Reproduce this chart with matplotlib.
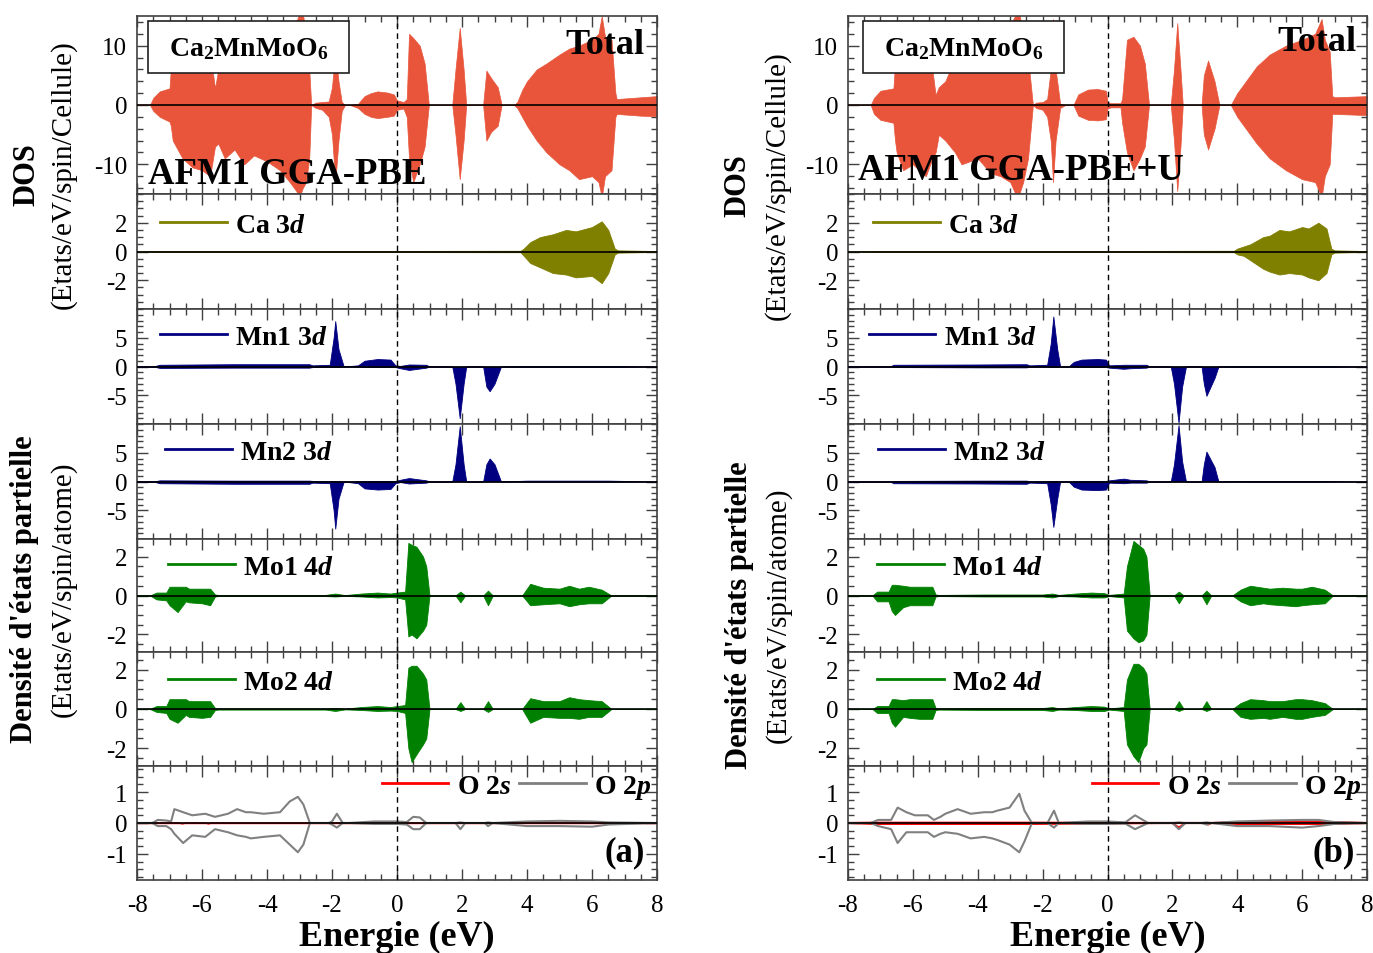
import matplotlib
matplotlib.use("Agg")
import matplotlib.pyplot as plt
from matplotlib.lines import Line2D
from matplotlib.patches import Rectangle
from matplotlib.ticker import MultipleLocator

plt.rcParams['font.family'] = ['Liberation Serif', 'DejaVu Serif']
plt.rcParams['mathtext.fontset'] = 'custom'
plt.rcParams['mathtext.it'] = 'Liberation Serif:bold:italic'
plt.rcParams['mathtext.bf'] = 'Liberation Serif:bold'
plt.rcParams['mathtext.rm'] = 'Liberation Serif:bold'
plt.rcParams['axes.unicode_minus'] = False

# ---------------- DATA ----------------
# Total DOS, (a) GGA-PBE
tot_a_E = [-8, -7.6, -7.5, -7.3, -7.0, -6.96, -6.9, -6.6, -6.3, -6.0, -5.75, -5.6, -5.5, -5.3, -5.0, -4.7, -4.4, -4.0,
           -3.6, -3.3, -3.1, -3.0, -2.9, -2.8, -2.7, -2.64, -2.5, -2.3, -2.1, -2.0, -1.9, -1.8, -1.7, -1.6, -1.45, -1.2,
           -1.0, -0.8, -0.6, -0.3, -0.1, 0.0, 0.2, 0.3, 0.37, 0.5, 0.7, 0.85, 0.98, 1.1, 1.7, 1.8, 1.93, 2.05, 2.13, 2.3,
           2.65, 2.75, 2.9, 3.1, 3.22, 3.6, 3.7, 3.85, 4.0, 4.3, 4.6, 5.0, 5.3, 5.6, 6.0, 6.2, 6.3, 6.4, 6.6, 6.72, 6.76,
           7.0, 7.5, 8.0]
tot_a_up = [0, 0, 1.2, 2.3, 2.8, 6, 10, 11, 12, 11, 9, 2.8, 6, 9, 11, 12, 12, 12,
            13, 13, 14, 15.5, 15.5, 12, 6, 0, 0.4, 0.5, 0.6, 3, 9, 4, 0.5, 0, 0, 0.2,
            1.5, 2, 2.3, 2.1, 1.8, 0.8, 0.5, 1, 12, 11.3, 10, 7, 0, 0, 0, 6, 13, 6, 0, 0,
            0, 5.8, 4.5, 3, 0, 0, 0.5, 2.5, 4, 6, 7, 8.5, 9.5, 10, 11, 12, 15, 11.5, 11, 2, 1,
            1.1, 1.3, 1.5]
tot_a_dn = [0, 0, -1, -2, -2.8, -3.5, -6, -9, -10.5, -11, -12, -7, -6.5, -9, -7.5, -10, -8.5, -9.5,
            -11, -13, -14.5, -15.5, -14, -13, -9, 0, -0.5, -0.8, -2, -5, -13, -6, -1, 0, 0, -0.5,
            -1.5, -2, -2.2, -2, -1.8, -0.8, -0.6, -2, -9, -13, -10, -7, 0, 0, 0, -5, -12.5, -6, 0, 0,
            0, -6, -4.5, -3.5, 0, 0, -0.5, -2, -3.5, -6, -8, -10, -11, -12.5, -12, -13, -15.5, -12, -11, -2, -1.5,
            -1.6, -1.8, -1.9]

# Total DOS, (b) GGA-PBE+U
tot_b_E = [-8, -7.3, -7.2, -7.0, -6.6, -6.55, -6.5, -6.3, -6.0, -5.6, -5.4, -5.3, -5.2, -5.0, -4.7, -4.5, -4.0, -3.6,
           -3.3, -3.0, -2.8, -2.72, -2.6, -2.45, -2.3, -2.2, -2.0, -1.86, -1.75, -1.68, -1.6, -1.46, -1.3, -1.05, -0.9,
           -0.6, -0.3, -0.05, 0.0, 0.1, 0.4, 0.45, 0.6, 0.8, 1.0, 1.15, 1.28, 1.4, 1.95, 2.05, 2.15, 2.25, 2.32, 2.9,
           2.97, 3.1, 3.3, 3.45, 3.8, 3.9, 4.0, 4.2, 4.6, 5.0, 5.5, 6.0, 6.4, 6.6, 6.7, 6.85, 6.93, 7.0, 7.5, 8.0]
tot_b_up = [0, 0, 1.2, 2.4, 2.8, 7, 10, 11, 11.5, 10, 6, 1.7, 3, 4, 8, 10, 12, 12.5,
            13, 13.5, 15.5, 15.5, 12, 8, 0, 0.4, 0.5, 1, 6, 14.5, 6, 0.2, 0, 0, 1.8,
            2.6, 2.7, 2.4, 0.5, 0.3, 0.3, 1, 11, 11.5, 10, 7, 0, 0, 0, 6, 13.8, 6, 0, 0,
            5, 7.5, 4, 0, 0, 1, 2, 3.5, 6.5, 8.5, 10, 11, 12, 14.5, 11, 9, 1.5, 1.3, 1.4, 1.5]
tot_b_dn = [0, 0, -1.5, -2.5, -3, -6, -8, -11, -10, -12, -9, -8, -5, -6, -8, -10, -9, -11.5,
            -12, -13, -15.5, -15, -13, -9, 0, -0.5, -0.8, -2, -6, -13, -6, -0.5, 0, 0, -1.8,
            -2.5, -2.6, -2.4, -0.6, -0.4, -0.4, -3, -8, -11, -9, -7, 0, 0, 0, -6, -14.5, -7, 0, 0,
            -5, -7.5, -4, 0, 0, -1, -2, -3.5, -6.5, -9, -11, -12.5, -13, -15.5, -12, -10, -1.5, -1.5, -1.6, -1.7]

# Ca 3d
ca_a_E = [-8, -7.4, -3, 3.8, 3.9, 4.1, 4.4, 4.8, 5.2, 5.5, 6.0, 6.3, 6.5, 6.7, 6.8, 8]
ca_a_up = [0, 0.03, 0.03, 0.05, 0.2, 0.65, 1.0, 1.2, 1.5, 1.4, 1.7, 2.1, 1.5, 0.2, 0.08, 0.03]
ca_a_dn = [0, -0.03, -0.03, -0.05, -0.3, -0.8, -1.1, -1.5, -1.6, -1.8, -1.7, -2.2, -1.5, -0.2, -0.08, -0.03]
ca_b_E = [-8, -7.2, -2.3, 3.9, 4.0, 4.2, 4.4, 4.8, 5.0, 5.3, 5.6, 6.0, 6.2, 6.5, 6.75, 6.9, 7.0, 8]
ca_b_up = [0, 0.03, 0.03, 0.05, 0.2, 0.35, 0.5, 1.0, 1.1, 1.5, 1.4, 1.7, 1.6, 2.0, 1.6, 0.2, 0.08, 0.03]
ca_b_dn = [0, -0.03, -0.03, -0.05, -0.2, -0.3, -0.6, -1.2, -1.4, -1.6, -1.5, -1.6, -1.8, -2.0, -1.5, -0.2, -0.08, -0.03]

# Mn 3d (a)
mn_a_E = [-8, -7.5, -7.3, -5.0, -2.7, -2.6, -2.07, -1.95, -1.9, -1.8, -1.64, -1.2, -1.0, -0.6, -0.2, -0.05, 0.1,
          0.37, 0.9, 1.0, 1.7, 1.8, 1.93, 2.05, 2.13, 2.65, 2.75, 2.85, 3.0, 3.2, 4.0, 6.5, 8]
mn1_a_up = [0, 0, 0.3, 0.4, 0.4, 0.2, 0.3, 5, 7.9, 3, 0, 0.2, 1.0, 1.3, 1.2, 0.2, 0.1,
            0.35, 0.3, 0, 0, 0, 0, 0, 0, 0, 0, 0, 0, 0, 0.1, 0.1, 0]
mn1_a_dn = [0, 0, -0.25, -0.2, -0.2, -0.1, -0.1, -0.1, -0.1, -0.1, 0, -0.05, -0.1, -0.1, -0.1, -0.1, -0.3,
            -0.6, -0.2, 0, 0, -3, -9, -3, 0, 0, -3.5, -4.3, -3, 0, -0.1, -0.1, 0]
mn2_a_up = [0, 0, 0.2, 0.15, 0.15, 0.1, 0.1, 0.1, 0.1, 0.1, 0, 0.05, 0.1, 0.1, 0.1, 0.1, 0.3,
            0.6, 0.2, 0, 0, 3, 9.6, 3, 0, 0, 3, 4, 3, 0, 0.15, 0.15, 0]
mn2_a_dn = [0, 0, -0.3, -0.4, -0.4, -0.2, -0.3, -5, -8.2, -3, 0, -0.3, -1.2, -1.4, -1.3, -0.3, -0.1,
            -0.35, -0.2, 0, 0, 0, 0, 0, 0, 0, 0, 0, 0, 0, -0.05, -0.05, 0]

# Mn 3d (b)
mn_b_E = [-8, -6.7, -6.6, -4.0, -2.5, -2.4, -1.86, -1.75, -1.67, -1.55, -1.46, -1.2, -1.04, -0.8, -0.3, -0.05, 0.05,
          0.5, 0.7, 1.2, 1.3, 1.95, 2.05, 2.19, 2.3, 2.42, 2.9, 2.97, 3.05, 3.3, 3.42, 4.3, 6.5, 8]
mn1_b_up = [0, 0, 0.3, 0.35, 0.4, 0.2, 0.3, 4, 8.7, 3, 0, 0, 0.8, 1.2, 1.3, 1.2, 0.2,
            0.3, 0.3, 0.3, 0, 0, 0, 0, 0, 0, 0, 0, 0, 0, 0, 0.1, 0.1, 0]
mn1_b_dn = [0, 0, -0.1, -0.15, -0.15, -0.05, -0.05, -0.1, -0.1, -0.1, 0, 0, -0.05, -0.1, -0.1, -0.1, -0.2,
            -0.4, -0.3, -0.2, 0, 0, -3, -9.8, -3.5, 0, 0, -3, -5.1, -2, 0, -0.1, -0.1, 0]
mn2_b_up = [0, 0, 0.1, 0.15, 0.15, 0.05, 0.05, 0.1, 0.1, 0.1, 0, 0, 0.05, 0.1, 0.1, 0.1, 0.2,
            0.5, 0.3, 0.2, 0, 0, 3, 9.8, 3.5, 0, 0, 3, 5.2, 2.5, 0, 0.1, 0.1, 0]
mn2_b_dn = [0, 0, -0.3, -0.35, -0.4, -0.2, -0.3, -4, -7.9, -3, 0, 0, -0.9, -1.4, -1.5, -1.4, -0.2,
            -0.3, -0.2, -0.2, 0, 0, 0, 0, 0, 0, 0, 0, 0, 0, 0, -0.05, -0.05, 0]

# Mo 4d (a)
mo_a_E = [-8, -7.6, -7.4, -7.1, -7.0, -6.75, -6.5, -6.4, -6.0, -5.75, -5.6, -5.5, -2.2, -1.9, -1.6, -1.1, -0.6,
          -0.2, 0.0, 0.25, 0.35, 0.45, 0.6, 0.8, 0.9, 1.0, 1.1, 1.8, 1.95, 2.1, 2.65, 2.8, 2.95, 3.85, 4.1, 4.5,
          5.0, 5.3, 5.6, 5.9, 6.3, 6.6, 8]
mo1_a_up = [0, 0, 0.15, 0.15, 0.45, 0.45, 0.45, 0.35, 0.35, 0.35, 0.05, 0.03, 0.03, 0.1, 0.02, 0.1, 0.15,
            0.1, 0.15, 0.2, 2.7, 2.6, 2.5, 2.0, 1.5, 0, 0, 0, 0.2, 0, 0, 0.25, 0, 0, 0.6, 0.4,
            0.35, 0.5, 0.35, 0.45, 0.3, 0, 0]
mo1_a_dn = [0, 0, -0.2, -0.25, -0.5, -0.85, -0.3, -0.35, -0.4, -0.5, -0.05, -0.03, -0.03, -0.05, -0.02, -0.05, -0.1,
            -0.08, -0.1, -0.2, -2.1, -2.0, -2.2, -1.8, -1.5, 0, 0, 0, -0.35, 0, 0, -0.5, 0, 0, -0.5, -0.45,
            -0.4, -0.55, -0.45, -0.4, -0.4, 0, 0]
mo2_a_up = [0, 0, 0.15, 0.15, 0.5, 0.5, 0.5, 0.4, 0.4, 0.4, 0.05, 0.03, 0.03, 0.05, 0.02, 0.1, 0.15,
            0.1, 0.15, 0.2, 2.1, 2.2, 2.2, 1.8, 1.5, 0, 0, 0, 0.35, 0, 0, 0.4, 0, 0, 0.55, 0.4,
            0.4, 0.6, 0.5, 0.45, 0.4, 0, 0]
mo2_a_dn = [0, 0, -0.15, -0.2, -0.5, -0.7, -0.3, -0.4, -0.45, -0.4, -0.05, -0.03, -0.03, -0.1, -0.02, -0.05, -0.1,
            -0.08, -0.1, -0.2, -2.0, -2.7, -2.3, -1.8, -1.5, 0, 0, 0, -0.1, 0, 0, -0.15, 0, 0, -0.7, -0.4,
            -0.45, -0.45, -0.5, -0.4, -0.4, 0, 0]

# Mo 4d (b)
mo_b_E = [-8, -7.25, -7.1, -6.75, -6.65, -6.55, -6.3, -6.1, -5.8, -5.4, -5.3, -5.2, -3.8, -2.0, -1.7, -1.5, -1.0,
          -0.5, -0.1, 0.05, 0.5, 0.6, 0.8, 0.95, 1.1, 1.2, 1.3, 1.4, 2.05, 2.2, 2.35, 2.9, 3.05, 3.2, 3.85, 4.1,
          4.4, 4.8, 5.0, 5.4, 5.8, 6.0, 6.3, 6.7, 6.95, 8]
mo1_b_up = [0, 0, 0.2, 0.2, 0.55, 0.55, 0.5, 0.45, 0.45, 0.45, 0.05, 0.03, 0.05, 0.05, 0.1, 0.03, 0.1,
            0.15, 0.12, 0.03, 0.1, 1.5, 2.8, 2.6, 2.4, 2.0, 0, 0, 0, 0.2, 0, 0, 0.25, 0, 0, 0.3,
            0.5, 0.4, 0.35, 0.4, 0.35, 0.35, 0.45, 0.3, 0, 0]
mo1_b_dn = [0, 0, -0.3, -0.3, -0.8, -1.0, -0.6, -0.5, -0.5, -0.5, -0.05, -0.03, -0.05, -0.05, -0.1, -0.03, -0.05,
            -0.1, -0.1, -0.03, -0.1, -1.8, -2.2, -2.4, -2.3, -2.0, 0, 0, 0, -0.4, 0, 0, -0.45, 0, 0, -0.3,
            -0.5, -0.4, -0.45, -0.5, -0.55, -0.5, -0.45, -0.4, 0, 0]
mo2_b_up = [0, 0, 0.15, 0.15, 0.5, 0.5, 0.45, 0.5, 0.5, 0.5, 0.05, 0.03, 0.05, 0.05, 0.1, 0.03, 0.1,
            0.15, 0.12, 0.03, 0.1, 1.5, 2.3, 2.3, 2.1, 1.8, 0, 0, 0, 0.4, 0, 0, 0.4, 0, 0, 0.3,
            0.5, 0.45, 0.4, 0.4, 0.5, 0.5, 0.45, 0.3, 0, 0]
mo2_b_dn = [0, 0, -0.2, -0.2, -0.7, -0.9, -0.4, -0.45, -0.5, -0.5, -0.05, -0.03, -0.05, -0.05, -0.1, -0.03, -0.05,
            -0.1, -0.1, -0.03, -0.1, -1.8, -2.4, -2.7, -2.0, -1.8, 0, 0, 0, -0.1, 0, 0, -0.1, 0, 0, -0.4,
            -0.5, -0.45, -0.5, -0.4, -0.5, -0.5, -0.4, -0.3, 0, 0]

# O 2p (a)
o2p_a_E = [-8, -7.53, -7.36, -7.1, -6.95, -6.85, -6.58, -6.3, -5.9, -5.6, -5.2, -4.92, -4.65, -4.5, -4.1, -3.6, -3.3,
           -3.05, -2.88, -2.68, -2.1, -2.0, -1.85, -1.67, -1.5, -0.7, 0.0, 0.3, 0.5, 0.7, 0.9, 1.5, 1.8, 1.95, 2.1,
           2.7, 2.8, 2.95, 4.0, 5.0, 6.0, 6.5, 8]
o2p_a_up = [0, 0, 0.1, 0.08, 0.05, 0.45, 0.35, 0.25, 0.3, 0.2, 0.3, 0.45, 0.35, 0.35, 0.3, 0.35, 0.7,
            0.85, 0.6, 0, 0, 0.05, 0.3, 0, 0, 0.05, 0.05, 0.03, 0.2, 0.18, 0, 0, 0, 0.02, 0,
            0, 0.02, 0, 0.05, 0.07, 0.05, 0.02, 0]
o2p_a_dn = [0, 0, -0.1, -0.1, -0.2, -0.35, -0.65, -0.4, -0.45, -0.2, -0.3, -0.4, -0.45, -0.5, -0.45, -0.4, -0.7,
            -0.95, -0.7, 0, 0, -0.05, -0.15, 0, 0, -0.03, -0.03, -0.05, -0.2, -0.2, 0, 0, 0, -0.2, 0,
            0, -0.1, 0, -0.1, -0.1, -0.12, -0.05, 0]
# O 2s (a)
o2s_a_E = [-8, -7.5, -6.7, -6.6, -6.5, -5.9, -5.8, -5.7, -2.7, 8]
o2s_a_up = [0, 0, 0, 0, 0, 0, 0, 0, 0, 0]
o2s_a_dn = [0, 0, 0, -0.03, 0, 0, -0.03, 0, 0, 0]

# O 2p (b)
o2p_b_E = [-8, -7.3, -7.07, -6.67, -6.47, -6.2, -5.94, -5.54, -5.35, -5.15, -5.0, -4.62, -4.22, -3.8, -3.55, -3.4,
           -3.02, -2.72, -2.56, -2.33, -1.85, -1.65, -1.5, -0.6, 0.0, 0.55, 0.85, 1.25, 2.0, 2.2, 2.4, 2.9, 3.05, 3.2,
           4.0, 5.0, 6.0, 6.5, 7.0, 8]
o2p_b_up = [0, 0, 0.1, 0.1, 0.5, 0.35, 0.25, 0.25, 0.1, 0.2, 0.3, 0.45, 0.3, 0.35, 0.35, 0.4,
            0.5, 0.95, 0.4, 0, 0, 0.4, 0, 0.05, 0.05, 0.02, 0.25, 0, 0, 0.02, 0, 0, 0.02, 0,
            0.05, 0.08, 0.1, 0.1, 0.03, 0]
o2p_b_dn = [0, 0, -0.1, -0.2, -0.65, -0.3, -0.3, -0.3, -0.45, -0.35, -0.3, -0.35, -0.5, -0.45, -0.5, -0.55,
            -0.7, -0.95, -0.6, 0, 0, -0.15, 0, -0.03, -0.03, -0.02, -0.2, 0, 0, -0.2, 0, 0, -0.05, 0,
            -0.1, -0.1, -0.15, -0.1, -0.03, 0]
# O 2s (b)
o2s_b_E = [-8, -7.2, -2.3, 2.0, 2.2, 2.4, 3.0, 3.1, 3.2, 4.0, 7.0, 8]
o2s_b_up = [0, 0.01, 0.01, 0, 0, 0, 0, 0, 0, 0.03, 0.03, 0]
o2s_b_dn = [0, -0.03, -0.03, 0, -0.15, 0, 0, -0.05, 0, -0.03, -0.03, 0]

x_ticks = [-8, -6, -4, -2, 0, 2, 4, 6, 8]
ylims = [15, 4, 10, 10, 2.9, 2.9, 1.85]
yticks = [[-10, 0, 10], [-2, 0, 2], [-5, 0, 5], [-5, 0, 5], [-2, 0, 2], [-2, 0, 2], [-1, 0, 1]]
yminor = [2, 0.5, 1, 1, 0.5, 0.5, 0.25]
pdos_labels = ['Ca 3$d$', 'Mn1 3$d$', 'Mn2 3$d$', 'Mo1 4$d$', 'Mo2 4$d$']

C_TOT = '#E8553B'
C_CA = '#7F7F00'
C_MN = '#000080'
C_MO = '#008000'
C_O2P = '#808080'
C_O2S = '#FF0000'
SPINE = '#404040'

# ---------------- FIGURE ----------------
W, H = 1373, 954
fig = plt.figure(figsize=(W / 100, H / 100), dpi=100)

hr = [178, 115, 115, 115, 113, 114, 114]

cols = [
    dict(left=137, right=657, tag='(a)', method='AFM1 GGA-PBE', box_x=0.021, o2s_lw=1.0,
         tot=(tot_a_E, tot_a_up, tot_a_dn),
         pd=[(ca_a_E, ca_a_up, ca_a_dn, C_CA), (mn_a_E, mn1_a_up, mn1_a_dn, C_MN), (mn_a_E, mn2_a_up, mn2_a_dn, C_MN),
             (mo_a_E, mo1_a_up, mo1_a_dn, C_MO), (mo_a_E, mo2_a_up, mo2_a_dn, C_MO)],
         o2p=(o2p_a_E, o2p_a_up, o2p_a_dn), o2s=(o2s_a_E, o2s_a_up, o2s_a_dn),
         leg_y=[0.73, 0.757, 0.757, 0.75, 0.737], leg_x=[0.044, 0.044, 0.054, 0.06, 0.06],
         tot_txt=(0.975, 0.84), meth_txt=(0.022, 0.115),
         lab1=(27, 175, 63, 175), lab2=(25, 589, 63, 589)),
    dict(left=848, right=1367, tag='(b)', method='AFM1 GGA-PBE+U', box_x=0.029, o2s_lw=1.5,
         tot=(tot_b_E, tot_b_up, tot_b_dn),
         pd=[(ca_b_E, ca_b_up, ca_b_dn, C_CA), (mn_b_E, mn1_b_up, mn1_b_dn, C_MN), (mn_b_E, mn2_b_up, mn2_b_dn, C_MN),
             (mo_b_E, mo1_b_up, mo1_b_dn, C_MO), (mo_b_E, mo2_b_up, mo2_b_dn, C_MO)],
         o2p=(o2p_b_E, o2p_b_up, o2p_b_dn), o2s=(o2s_b_E, o2s_b_up, o2s_b_dn),
         leg_y=[0.73, 0.757, 0.757, 0.75, 0.737], leg_x=[0.048, 0.04, 0.058, 0.056, 0.056],
         tot_txt=(0.98, 0.855), meth_txt=(0.02, 0.14),
         lab1=(738, 186, 777, 186), lab2=(740, 615, 778, 615)),
]

leg_font = dict(family='Liberation Serif', weight='bold', size=20)

for col in cols:
    gs = fig.add_gridspec(7, 1, left=col['left'] / W, right=col['right'] / W,
                          top=1 - 17 / H, bottom=1 - 881 / H, hspace=0, height_ratios=hr)
    axes = [fig.add_subplot(gs[i]) for i in range(7)]
    for i, ax in enumerate(axes):
        ax.set_xlim(-8, 8)
        ax.set_ylim(-ylims[i], ylims[i])
        ax.set_xticks(x_ticks)
        ax.xaxis.set_minor_locator(MultipleLocator(0.5))
        ax.set_yticks(yticks[i])
        ax.yaxis.set_minor_locator(MultipleLocator(yminor[i]))
        ax.tick_params(which='both', direction='in', top=True, right=True, color=SPINE, labelsize=18,
                       width=1.0)
        ax.tick_params(which='major', length=8)
        ax.tick_params(which='minor', length=4)
        ax.tick_params(axis='y', which='major', pad=7)
        ax.tick_params(axis='x', which='major', pad=10)
        for s in ax.spines.values():
            s.set_color(SPINE)
            s.set_linewidth(1.2)
        if i < 6:
            ax.tick_params(labelbottom=False)
        ax.axhline(0, color='black', lw=1.2, zorder=4)
        ax.axvline(0, color='black', lw=1.0, ls=(0, (4, 3)), zorder=4)

    # Total
    E, up, dn = col['tot']
    axes[0].fill_between(E, dn, up, color=C_TOT, lw=0.5, zorder=2)
    axes[0].add_patch(Rectangle((col['box_x'], 0.68), 0.387, 0.292,
                                transform=axes[0].transAxes, facecolor='white', edgecolor='#202020',
                                lw=1.2, zorder=6))
    bx = col['box_x'] + 0.387 / 2
    axes[0].text(bx, 0.82, r'$\mathbf{Ca_2MnMoO_6}$', transform=axes[0].transAxes,
                 ha='center', va='center', fontsize=20, zorder=7)
    axes[0].text(*col['tot_txt'], 'Total', transform=axes[0].transAxes, ha='right', va='center',
                 fontsize=26, fontweight='bold', zorder=7)
    axes[0].text(*col['meth_txt'], col['method'], transform=axes[0].transAxes, ha='left', va='center',
                 fontsize=26.5, fontweight='bold', zorder=7)

    # PDOS
    for k, (E, up, dn, c) in enumerate(col['pd']):
        ax = axes[k + 1]
        ax.fill_between(E, dn, up, color=c, lw=0.6, zorder=2)
        ax.legend(handles=[Line2D([], [], color=c, lw=2)], labels=[pdos_labels[k]], prop=leg_font,
                  frameon=False, loc='center left', bbox_to_anchor=(col['leg_x'][k], col['leg_y'][k]),
                  handlelength=2.4, handletextpad=0.3, borderaxespad=0, borderpad=0)

    # O
    ax = axes[6]
    E, up, dn = col['o2s']
    ax.plot(E, up, color=C_O2S, lw=col['o2s_lw'], zorder=2)
    ax.plot(E, dn, color=C_O2S, lw=col['o2s_lw'], zorder=2)
    E, up, dn = col['o2p']
    ax.plot(E, up, color=C_O2P, lw=1.5, zorder=3)
    ax.plot(E, dn, color=C_O2P, lw=1.5, zorder=3)
    ax.legend(handles=[Line2D([], [], color=C_O2S, lw=2), Line2D([], [], color=C_O2P, lw=2)],
              labels=['O 2$s$', 'O 2$p$'], prop=leg_font, frameon=False, loc='center right',
              bbox_to_anchor=(0.99, 0.82), ncol=2, handlelength=2.4, handletextpad=0.3,
              columnspacing=0.3, borderaxespad=0, borderpad=0)
    ax.text(0.977, 0.245, col['tag'], transform=ax.transAxes, ha='right', va='center',
            fontsize=25, fontweight='bold', zorder=7)
    ax.set_xlabel('Energie (eV)', fontsize=26, fontweight='bold', labelpad=3)

    x1, y1, x2, y2 = col['lab1']
    fig.text(x1 / W, 1 - y1 / H, 'DOS', rotation=90, ha='center', va='center', fontsize=22, fontweight='bold')
    fig.text(x2 / W, 1 - y2 / H, '(Etats/eV/spin/Cellule)', rotation=90, ha='center', va='center', fontsize=21)
    x1, y1, x2, y2 = col['lab2']
    fig.text(x1 / W, 1 - y1 / H, "Densité d'états partielle", rotation=90, ha='center', va='center',
             fontsize=22, fontweight='bold')
    fig.text(x2 / W, 1 - y2 / H, '(Etats/eV/spin/atome)', rotation=90, ha='center', va='center', fontsize=21)

fig.savefig('out.png', dpi=100)
